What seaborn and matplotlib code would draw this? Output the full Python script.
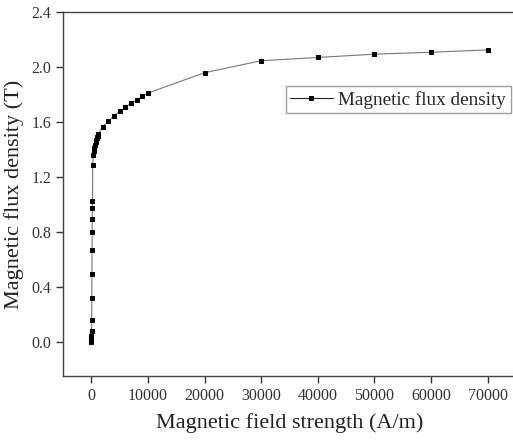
"""B-H curve: magnetic flux density vs field strength."""
import matplotlib
matplotlib.use("Agg")
import matplotlib.pyplot as plt
import pandas as pd
import seaborn as sns

# --- data ---
field_strength = [
    0, 10, 20, 30, 50, 70, 90, 110, 130, 150, 170, 190, 210, 250, 350,
    450, 550, 650, 750, 850, 950, 1050, 1150, 1250,
    2000, 3000, 4000, 5000, 6000, 7000, 8000, 9000, 10000,
    20000, 30000, 40000, 50000, 60000, 70000,
]
flux_density = [
    0.0, 0.01, 0.02, 0.04, 0.075, 0.157, 0.316, 0.494, 0.665, 0.798, 0.895,
    0.974, 1.027, 1.285, 1.36,
    1.39, 1.41, 1.43, 1.45, 1.465, 1.48, 1.49, 1.50, 1.51,
    1.565, 1.604, 1.642, 1.676, 1.707, 1.734, 1.758, 1.787, 1.81,
    1.958, 2.045, 2.069, 2.093, 2.107, 2.124,
]
x_ticks = [0, 10000, 20000, 30000, 40000, 50000, 60000, 70000]
y_ticks = [0.0, 0.4, 0.8, 1.2, 1.6, 2.0, 2.4]

df = pd.DataFrame({"H": field_strength, "B": flux_density})

sns.set_style("ticks")
plt.rcParams["font.family"] = ["Liberation Serif", "DejaVu Serif"]

fig = plt.figure(figsize=(5.13, 4.41), dpi=100)
ax = fig.add_axes([0.1228, 0.1474, 0.883, 0.8254])

sns.lineplot(
    data=df, x="H", y="B", ax=ax, estimator=None, sort=False,
    color="#777777", linewidth=0.8, marker="s", markersize=3.3,
    markerfacecolor="black", markeredgecolor="black",
    label="Magnetic flux density",
)

ax.set_xlim(-5000, 75000)
ax.set_ylim(-0.25, 2.4)
ax.set_xticks(x_ticks)
ax.set_yticks(y_ticks)
ax.set_yticklabels([f"{v:.1f}" for v in y_ticks])
ax.tick_params(direction="out", length=5, width=1, colors="#333333",
               labelsize=11.5, top=False, right=False)
for side in ["left", "bottom", "top"]:
    ax.spines[side].set_color("#444444")
    ax.spines[side].set_linewidth(1)
ax.spines["right"].set_visible(False)
ax.spines["top"].set_visible(True)

ax.set_xlabel("Magnetic field strength (A/m)", fontsize=16, color="#222222",
              labelpad=7)
ax.set_ylabel("Magnetic flux density (T)", fontsize=16, color="#222222",
              labelpad=5)

leg = ax.legend(loc="upper right", bbox_to_anchor=(0.996, 0.805),
                bbox_transform=fig.transFigure, fontsize=13.8, frameon=True,
                fancybox=False, handlelength=2.2, borderpad=0.25,
                handletextpad=0.3, borderaxespad=0)
leg.get_frame().set_edgecolor("#888888")
leg.get_frame().set_linewidth(1)
leg.get_lines()[0].set_color("#222222")

fig.savefig("out.png", dpi=100)
